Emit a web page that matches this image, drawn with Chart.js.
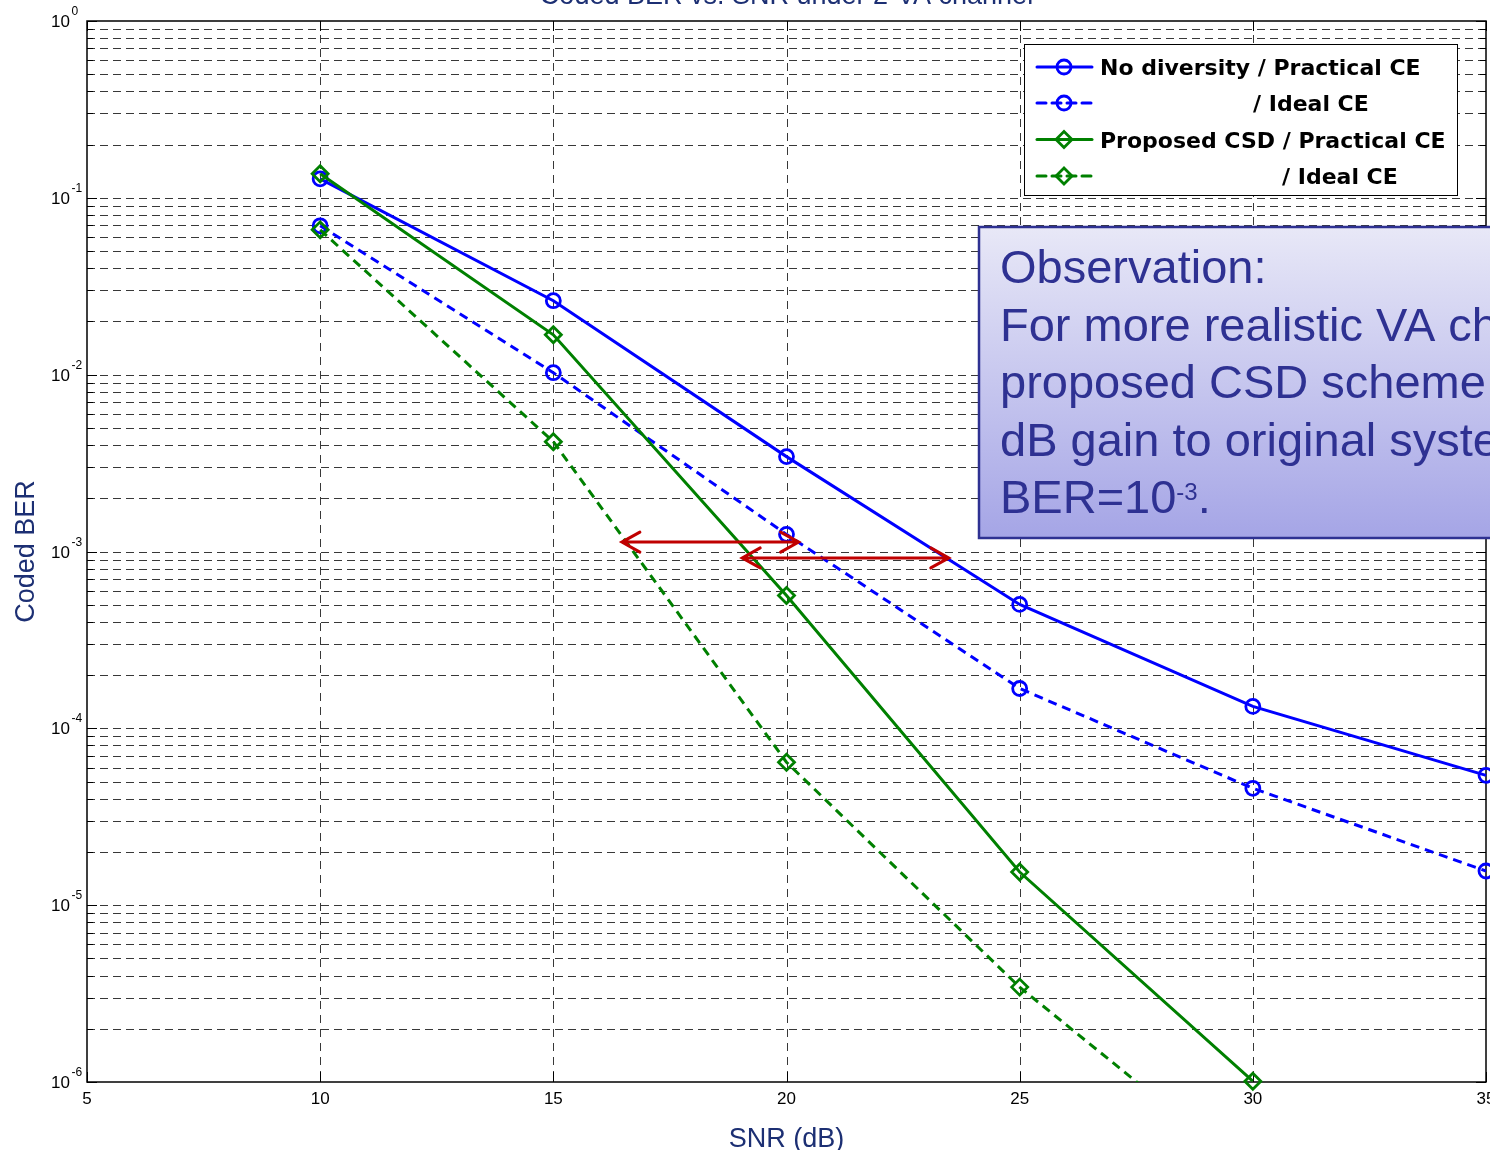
<!DOCTYPE html>
<html><head><meta charset="utf-8">
<script src="https://cdn.jsdelivr.net/npm/chart.js@4.4.0/dist/chart.umd.min.js"></script>
<style>html,body{margin:0;padding:0;background:#fff;overflow:hidden}canvas{display:block}</style>
</head><body>
<canvas id="c" width="1490" height="1150"></canvas>
<script>
// ---- data ----
const snr = [10, 15, 20, 25, 30, 35];
const noDivPractical = [0.128, 0.0262, 3.44e-3, 5.02e-4, 1.33e-4, 5.42e-5];
const noDivIdeal     = [0.0695, 0.01026, 1.25e-3, 1.68e-4, 4.58e-5, 1.56e-5];
const csdPractical   = [0.137, 0.0168, 5.64e-4, 1.54e-5, 1.01e-6];
const csdIdeal       = [0.0659, 4.18e-3, 6.43e-5, 3.44e-6, 2.94e-7];
const xTicks = [5, 10, 15, 20, 25, 30, 35];
const yExponents = [0, -1, -2, -3, -4, -5, -6];
const legendMain = ['No diversity / Practical CE', '/ Ideal CE', 'Proposed CSD / Practical CE', '/ Ideal CE'];
// gain arrows: [snr from, snr to, BER level]
const gainArrows = [[16.47, 20.26, 1.13e-3], [19.05, 23.48, 9.2e-4]];
const titleText = 'Coded BER vs. SNR under 2-VA channel';
const xLabel = 'SNR (dB)';
const yLabel = 'Coded BER';
const noteLines = ['Observation:', 'For more realistic VA channel, the', 'proposed CSD scheme provides 4', 'dB gain to original system at'];

const BLUE = '#0000ff', GREEN = '#008000', NAVY = '#1c2f73', NOTE = '#2e3192';
const pts = (ys) => ys.map((v, i) => ({x: snr[i], y: v}));

const series = [
  {data: noDivPractical, color: BLUE, dash: [], style: 'circle'},
  {data: noDivIdeal, color: BLUE, dash: [9, 6], style: 'circle'},
  {data: csdPractical, color: GREEN, dash: [], style: 'rectRot'},
  {data: csdIdeal, color: GREEN, dash: [9, 6], style: 'rectRot'}
];

const datasets = series.map((s, i) => ({
  label: legendMain[i],
  data: pts(s.data),
  borderColor: s.color,
  backgroundColor: 'rgba(0,0,0,0)',
  borderWidth: 3,
  borderDash: s.dash,
  pointStyle: s.style,
  pointRadius: s.style === 'circle' ? 7 : 8,
  pointBorderWidth: 2.8,
  pointBorderColor: s.color,
  pointBackgroundColor: 'rgba(0,0,0,0)',
  tension: 0,
  order: 4 - i,
  clip: i === 3 ? {left: false, top: false, right: false, bottom: 0} : false
}));

function marker(ctx, style, x, y, color) {
  ctx.save();
  ctx.setLineDash([]);
  ctx.strokeStyle = color; ctx.lineWidth = 2.8;
  ctx.beginPath();
  if (style === 'circle') ctx.arc(x, y, 7, 0, Math.PI * 2);
  else { ctx.moveTo(x - 8, y); ctx.lineTo(x, y - 8); ctx.lineTo(x + 8, y); ctx.lineTo(x, y + 8); ctx.closePath(); }
  ctx.stroke();
  ctx.restore();
}

const decor = {
  id: 'decor',
  beforeDatasetsDraw(chart) {
    const {ctx, chartArea: a, scales: {x, y}} = chart;
    ctx.save();
    // horizontal grid (major + minor), dashed
    ctx.lineWidth = 1;
    ctx.strokeStyle = 'rgba(0,0,0,0.78)';
    ctx.setLineDash([8, 5]);
    for (let k = -6; k < 0; k++) {
      for (let m = 1; m < 10; m++) {
        if (k === -6 && m === 1) continue;
        const py = Math.round(y.getPixelForValue(m * Math.pow(10, k))) + 0.5;
        ctx.beginPath(); ctx.moveTo(a.left, py); ctx.lineTo(a.right, py); ctx.stroke();
      }
    }
    // vertical grid
    ctx.setLineDash([8, 6]);
    xTicks.forEach(t => {
      if (t === x.min || t === x.max) return;
      const px = Math.round(x.getPixelForValue(t)) + 0.5;
      ctx.beginPath(); ctx.moveTo(px, a.top); ctx.lineTo(px, a.bottom); ctx.stroke();
    });
    ctx.setLineDash([]);
    // ticks
    ctx.strokeStyle = '#000'; ctx.lineWidth = 1;
    xTicks.forEach(t => {
      const px = Math.round(x.getPixelForValue(t)) + 0.5;
      ctx.beginPath();
      ctx.moveTo(px, a.bottom); ctx.lineTo(px, a.bottom - 10);
      ctx.moveTo(px, a.top); ctx.lineTo(px, a.top + 10);
      ctx.stroke();
    });
    for (let k = -6; k <= 0; k++) {
      for (let m = 1; m < 10; m++) {
        if (k === 0 && m > 1) break;
        const py = Math.round(y.getPixelForValue(m * Math.pow(10, k))) + 0.5;
        const len = m === 1 ? 10 : 6;
        ctx.beginPath();
        ctx.moveTo(a.left, py); ctx.lineTo(a.left + len, py);
        ctx.moveTo(a.right, py); ctx.lineTo(a.right - len, py);
        ctx.stroke();
      }
    }
    // axes box
    ctx.lineWidth = 1.5;
    ctx.strokeRect(a.left, a.top, a.right - a.left, a.bottom - a.top);
    // tick labels
    ctx.fillStyle = '#000';
    ctx.font = '17px "Liberation Sans", Arial, sans-serif';
    ctx.textAlign = 'center'; ctx.textBaseline = 'alphabetic';
    xTicks.forEach(t => ctx.fillText(String(t), x.getPixelForValue(t), a.bottom + 22));
    yExponents.forEach(e => {
      const py = y.getPixelForValue(Math.pow(10, e));
      ctx.font = '17px "Liberation Sans", Arial, sans-serif';
      ctx.textAlign = 'right';
      ctx.fillText('10', 70, py + 6);
      ctx.font = '12px "Liberation Sans", Arial, sans-serif';
      ctx.textAlign = 'left';
      ctx.fillText(String(e), 71.5, py - 6);
    });
    // axis labels and title
    ctx.fillStyle = NAVY;
    ctx.font = '27px "Liberation Sans", Arial, sans-serif';
    ctx.textAlign = 'center';
    ctx.fillText(xLabel, (a.left + a.right) / 2, 1147);
    ctx.fillText(titleText, (a.left + a.right) / 2, 4);
    ctx.save();
    ctx.translate(34, (a.top + a.bottom) / 2);
    ctx.rotate(-Math.PI / 2);
    ctx.fillText(yLabel, 0, 0);
    ctx.restore();
    ctx.restore();
  },
  afterDatasetsDraw(chart) {
    const {ctx, scales: {x, y}} = chart;
    ctx.save();
    // gain arrows
    ctx.strokeStyle = '#c00000'; ctx.lineWidth = 3; ctx.lineCap = 'round';
    ctx.setLineDash([]);
    gainArrows.forEach(([x1, x2, v]) => {
      const p1 = x.getPixelForValue(x1), p2 = x.getPixelForValue(x2), py = y.getPixelForValue(v);
      ctx.beginPath();
      ctx.moveTo(p1, py); ctx.lineTo(p2, py);
      ctx.moveTo(p1 + 18, py - 10); ctx.lineTo(p1, py); ctx.lineTo(p1 + 18, py + 10);
      ctx.moveTo(p2 - 18, py - 10); ctx.lineTo(p2, py); ctx.lineTo(p2 - 18, py + 10);
      ctx.stroke();
    });
    // legend
    const lx = 1024, ly = 44, lw = 433, lh = 151;
    ctx.fillStyle = '#fff';
    ctx.fillRect(lx, ly, lw, lh);
    ctx.strokeStyle = '#000'; ctx.lineWidth = 1;
    ctx.strokeRect(lx + 0.5, ly + 0.5, lw, lh);
    const rows = [67, 103, 139.5, 176];
    const textX = [1100, 1253, 1100, 1282];
    series.forEach((s, i) => {
      const ry = rows[i];
      ctx.strokeStyle = s.color; ctx.lineWidth = 3;
      ctx.setLineDash(s.dash);
      ctx.beginPath(); ctx.moveTo(1037, ry); ctx.lineTo(1092, ry); ctx.stroke();
      marker(ctx, s.style, 1064, ry, s.color);
      ctx.fillStyle = '#000';
      ctx.font = 'bold 22px "DejaVu Sans", sans-serif';
      ctx.textAlign = 'left'; ctx.textBaseline = 'alphabetic';
      ctx.fillText(legendMain[i], textX[i], ry + 8);
    });
    ctx.setLineDash([]);
    // observation note
    const bx = 979, by = 227, bb = 538;
    const g = ctx.createLinearGradient(0, by, 0, bb);
    g.addColorStop(0, '#e8e8f7');
    g.addColorStop(1, '#a5a5e6');
    ctx.fillStyle = g;
    ctx.fillRect(bx, by, 700, bb - by);
    ctx.strokeStyle = NOTE; ctx.lineWidth = 2.5;
    ctx.strokeRect(bx, by, 700, bb - by);
    ctx.fillStyle = NOTE;
    ctx.font = '47px "Liberation Sans", Arial, sans-serif';
    ctx.textAlign = 'left';
    const base = [283, 341, 398, 456];
    noteLines.forEach((t, i) => ctx.fillText(t, 1000, base[i]));
    ctx.fillText('BER=10', 1000, 513);
    const w1 = ctx.measureText('BER=10').width;
    ctx.font = '24px "Liberation Sans", Arial, sans-serif';
    ctx.fillText('-3', 1000 + w1, 500);
    const w2 = ctx.measureText('-3').width;
    ctx.font = '47px "Liberation Sans", Arial, sans-serif';
    ctx.fillText('.', 1000 + w1 + w2, 513);
    ctx.restore();
  }
};

new Chart(document.getElementById('c'), {
  type: 'line',
  data: {datasets},
  options: {
    responsive: false,
    animation: false,
    layout: {autoPadding: false, padding: {left: 87, top: 21, right: 4, bottom: 68}},
    plugins: {legend: {display: false}, tooltip: {enabled: false}, title: {display: false}},
    scales: {
      x: {type: 'linear', min: 5, max: 35, display: false},
      y: {type: 'logarithmic', min: 1e-6, max: 1, display: false}
    }
  },
  plugins: [decor]
});
</script>
</body></html>
